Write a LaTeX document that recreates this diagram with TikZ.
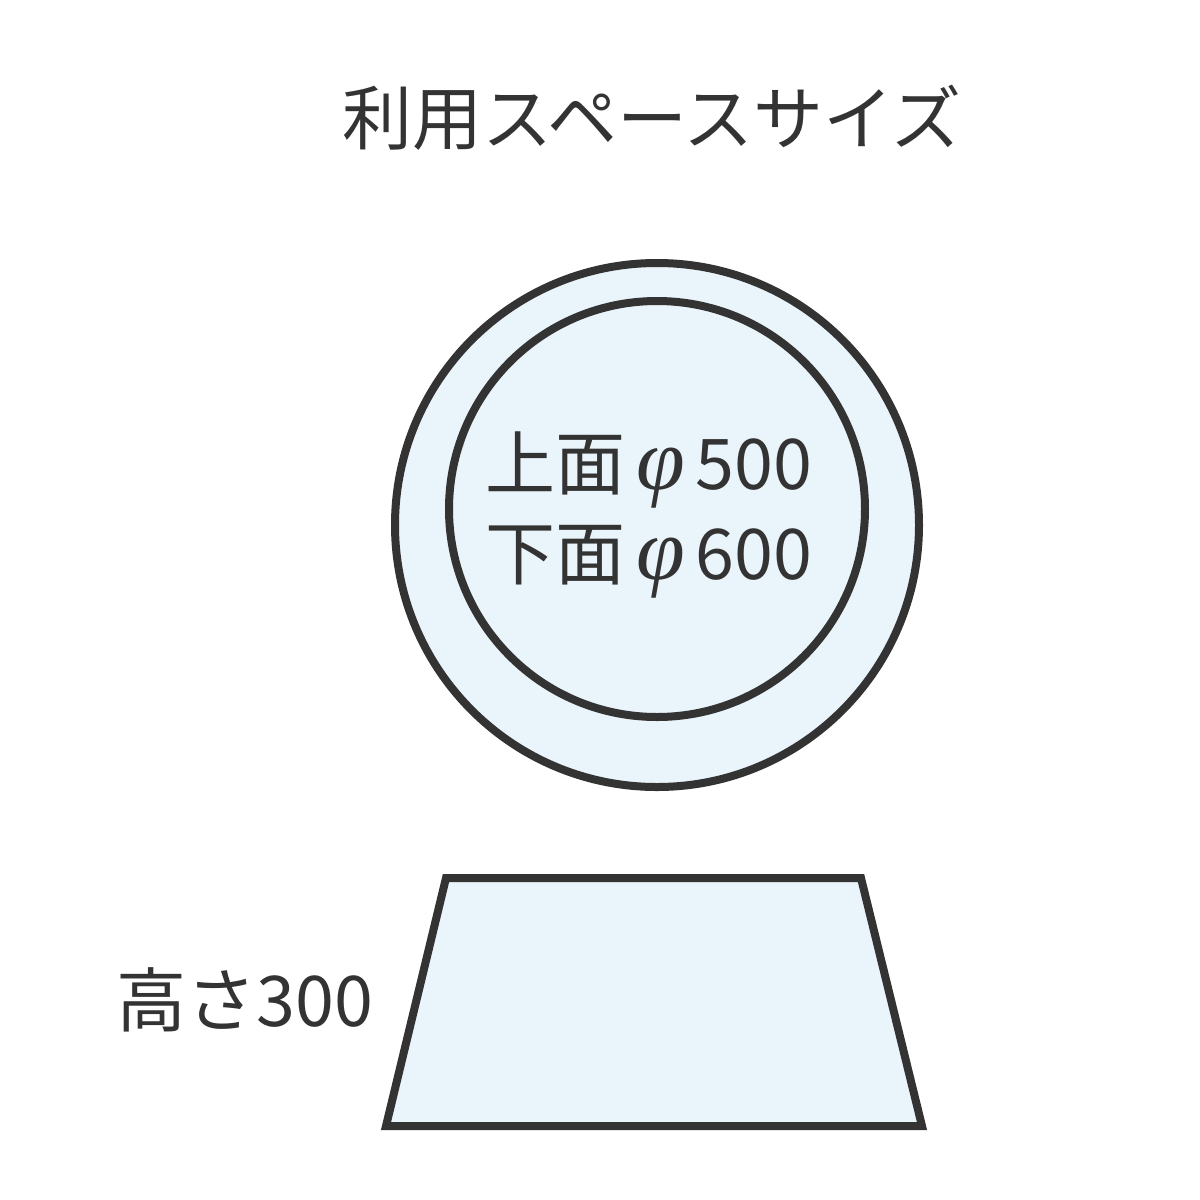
\documentclass[tikz,border=0pt]{standalone}
\usepackage{fontspec}
\setmainfont{Noto Sans CJK JP}
\newfontfamily\jpfont{Noto Sans CJK JP}
\newfontfamily\phifont{Liberation Serif}
\newcommand{\myphi}{\hspace{11pt}{\phifont\itshape\fontsize{88}{90}\selectfont φ}\hspace{10pt}}
\definecolor{ink}{HTML}{333333}
\definecolor{pale}{HTML}{EAF4FB}
\begin{document}
\begin{tikzpicture}[x=1pt,y=-1pt,
  shapeline/.style={draw=ink,line width=8pt,fill=pale,line join=miter},
  label/.style={text=ink,inner sep=0pt,font=\jpfont\fontsize{70}{80}\selectfont}]
\useasboundingbox (0,0) rectangle (1200,1200);
\node[label,anchor=center] (title) at (652,118) {利用スペースサイズ};
\draw[shapeline] (657,525) circle[radius=262];
\draw[shapeline] (657,509) circle[radius=208];
\node[label,font=\jpfont\fontsize{70}{90}\selectfont,anchor=center,align=left] (dims) at (649,515)
  {上面\myphi500\\下面\myphi600};
\draw[shapeline] (446,878) coordinate (tl) -- (861,878) coordinate (tr) -- (922,1126) coordinate (br) -- (386,1126) coordinate (bl) -- cycle;
\node[label,anchor=center] (height) at (245,1000) {高さ300};
\end{tikzpicture}
\end{document}
